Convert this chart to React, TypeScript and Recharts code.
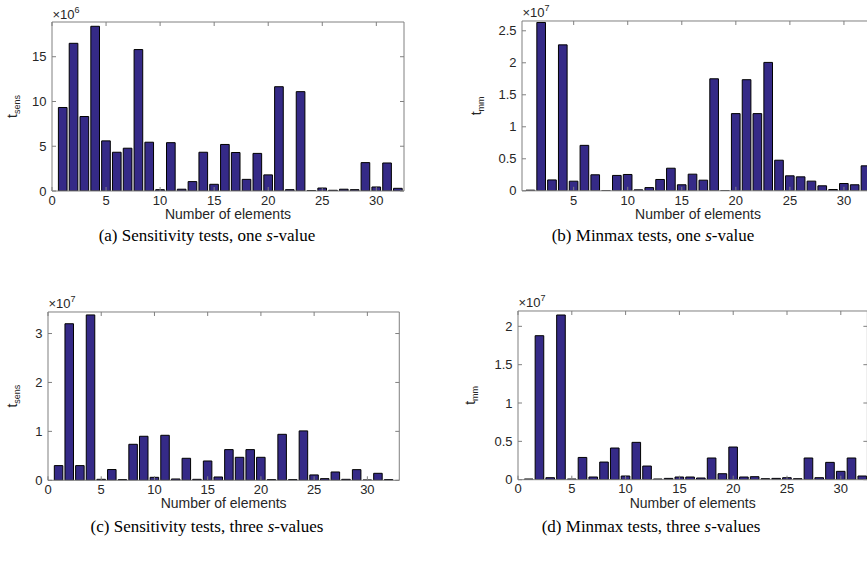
import React from 'react';
import { BarChart, Bar, XAxis, YAxis, Label } from 'recharts';

// number of elements, one bar each
const elements = [1, 2, 3, 4, 5, 6, 7, 8, 9, 10, 11, 12, 13, 14, 15, 16, 17, 18, 19, 20, 21, 22, 23, 24, 25, 26, 27, 28, 29, 30, 31, 32];

// (a) t_sens, x10^6
const sensOne = [9.33, 16.5, 8.32, 18.4, 5.6, 4.33, 4.78, 15.8, 5.45, 0.15, 5.4, 0.2, 1.05, 4.33, 0.75, 5.2, 4.3, 1.3, 4.2, 1.8, 11.65, 0.15, 11.1, 0.05, 0.33, 0.08, 0.2, 0.15, 3.17, 0.45, 3.13, 0.3];
// (b) t_mm, x10^7
const minmaxOne = [0.01, 2.63, 0.17, 2.28, 0.15, 0.71, 0.25, 0.003, 0.24, 0.255, 0.015, 0.05, 0.177, 0.353, 0.094, 0.26, 0.166, 1.75, 0.003, 1.206, 1.736, 1.206, 2.006, 0.478, 0.234, 0.218, 0.151, 0.078, 0.02, 0.114, 0.094, 0.39];
// (c) t_sens, x10^7
const sensThree = [0.3, 3.2, 0.3, 3.38, 0.02, 0.22, 0.014, 0.736, 0.9, 0.061, 0.92, 0.027, 0.45, 0.02, 0.395, 0.068, 0.627, 0.47, 0.627, 0.47, 0.014, 0.94, 0.014, 1.01, 0.11, 0.034, 0.17, 0.02, 0.218, 0.007, 0.143, 0.014];
// (d) t_mm, x10^7
const minmaxThree = [0.009, 1.878, 0.026, 2.148, 0.009, 0.29, 0.035, 0.23, 0.413, 0.048, 0.487, 0.178, 0.009, 0.017, 0.035, 0.035, 0.022, 0.283, 0.078, 0.426, 0.035, 0.039, 0.013, 0.017, 0.026, 0.013, 0.283, 0.026, 0.226, 0.109, 0.283, 0.048];

const xTicksFull = [0, 5, 10, 15, 20, 25, 30];
const xTicksNoZero = [5, 10, 15, 20, 25, 30];
const yTicksSensOne = [0, 5, 10, 15];
const yTicksMinmaxOne = [0, 0.5, 1, 1.5, 2, 2.5];
const yTicksSensThree = [0, 1, 2, 3];
const yTicksMinmaxThree = [0, 0.5, 1, 1.5, 2];

const BAR = '#352a87';
const AXIS = '#808080';
const TXT = '#262626';

type Rect = { l: number; t: number; r: number; b: number };

const blank = () => '';

function yLabel(sub: string, exponent: string, gap: number) {
  return (props: any) => {
    const vb = props.viewBox || {};
    const px = vb.x + vb.width;
    const cy = vb.y + vb.height / 2;
    const lx = px - gap;
    return (
      <g>
        <text x={lx} y={cy} transform={`rotate(-90 ${lx} ${cy})`} textAnchor="middle" fontSize={14} fill={TXT}>
          t<tspan fontSize={9} dy={3}>{sub}</tspan>
        </text>
        <text x={px + 0.5} y={vb.y - 3.5} fontSize={13} fill={TXT}>
          ×10<tspan fontSize={9} dy={-6}>{exponent}</tspan>
        </text>
      </g>
    );
  };
}

function Panel({ values, plot, xDomain, xTicks, yDomain, yTicks, exponent, sub, gap }: {
  values: number[]; plot: Rect; xDomain: number[]; xTicks: number[]; yDomain: number[]; yTicks: number[];
  exponent: string; sub: string; gap: number;
}) {
  const data = elements.map((x, i) => ({ x, v: values[i] }));
  const padL = 60, padT = 26, padR = 10, axisH = 36;
  const plotW = plot.r - plot.l;
  const plotH = plot.b - plot.t;
  const unit = plotW / (xDomain[1] - xDomain[0]);
  const tickStyle = { fontSize: 13, fill: TXT };
  // top axis is 1px high and right axis 1px wide, so the margins give that pixel back
  return (
    <div style={{ position: 'absolute', left: plot.l - padL, top: plot.t - padT }}>
      <BarChart width={plotW + padL + padR} height={plotH + padT + axisH} data={data}
        margin={{ top: padT - 1, right: padR - 1, bottom: 0, left: 0 }}>
        <XAxis xAxisId="b" dataKey="x" type="number" domain={xDomain} ticks={xTicks} allowDataOverflow interval={0}
          height={axisH} tickSize={-4} tickMargin={8.5} axisLine={{ stroke: AXIS }} tickLine={{ stroke: AXIS }} tick={tickStyle}>
          <Label value="Number of elements" position="insideBottom" offset={axisH - 28} fontSize={14} fill={TXT} />
        </XAxis>
        <XAxis xAxisId="t" orientation="top" dataKey="x" type="number" domain={xDomain} ticks={xTicks} allowDataOverflow interval={0}
          height={1} tickSize={-4} axisLine={{ stroke: AXIS }} tickLine={{ stroke: AXIS }} tickFormatter={blank} />
        <YAxis yAxisId="l" type="number" domain={yDomain} ticks={yTicks} allowDataOverflow interval={0}
          width={padL} tickSize={-4} tickMargin={9.5} axisLine={{ stroke: AXIS }} tickLine={{ stroke: AXIS }} tick={tickStyle}>
          <Label content={yLabel(sub, exponent, gap)} />
        </YAxis>
        <YAxis yAxisId="r" orientation="right" type="number" domain={yDomain} ticks={yTicks} allowDataOverflow interval={0}
          width={1} tickSize={-4} axisLine={{ stroke: AXIS }} tickLine={{ stroke: AXIS }} tickFormatter={blank} />
        <Bar xAxisId="b" yAxisId="l" dataKey="v" barSize={unit * 0.8} fill={BAR} stroke="#000" strokeWidth={1} isAnimationActive={false} />
      </BarChart>
    </div>
  );
}

function Caption({ cx, top, tag, lead, tail }: { cx: number; top: number; tag: string; lead: string; tail: string }) {
  return (
    <div style={{ position: 'absolute', left: cx - 200, top, width: 400, textAlign: 'center', fontFamily: '"Liberation Serif", serif', fontSize: 17, lineHeight: '20px', color: '#000' }}>
      {tag} {lead} <i>s</i>{tail}
    </div>
  );
}

export default function App() {
  return (
    <div style={{ position: 'absolute', left: 0, top: 0, width: 867, height: 570, overflow: 'hidden', background: '#fff', fontFamily: '"Liberation Sans", Arial, sans-serif' }}>
      <Panel values={sensOne} plot={{ l: 52.3, t: 22, r: 404.3, b: 191 }} xDomain={[0, 32.56]} xTicks={xTicksFull}
        yDomain={[0, 18.88]} yTicks={yTicksSensOne} exponent="6" sub="sens" gap={35} />
      <Panel values={minmaxOne} plot={{ l: 521.7, t: 20.7, r: 873.7, b: 190.5 }} xDomain={[0.22, 32.78]} xTicks={xTicksNoZero}
        yDomain={[0, 2.653]} yTicks={yTicksMinmaxOne} exponent="7" sub="mm" gap={41} />
      <Panel values={sensThree} plot={{ l: 47.7, t: 311.7, r: 399, b: 480 }} xDomain={[0, 33]} xTicks={xTicksFull}
        yDomain={[0, 3.44]} yTicks={yTicksSensThree} exponent="7" sub="sens" gap={31} />
      <Panel values={minmaxThree} plot={{ l: 517.9, t: 311.3, r: 867.3, b: 480 }} xDomain={[0, 32.47]} xTicks={xTicksFull}
        yDomain={[0, 2.2]} yTicks={yTicksMinmaxThree} exponent="7" sub="mm" gap={43} />
      <Caption cx={207} top={226} tag="(a)" lead="Sensitivity tests, one" tail="-value" />
      <Caption cx={653} top={226} tag="(b)" lead="Minmax tests, one" tail="-value" />
      <Caption cx={207} top={517} tag="(c)" lead="Sensitivity tests, three" tail="-values" />
      <Caption cx={651} top={517} tag="(d)" lead="Minmax tests, three" tail="-values" />
    </div>
  );
}
